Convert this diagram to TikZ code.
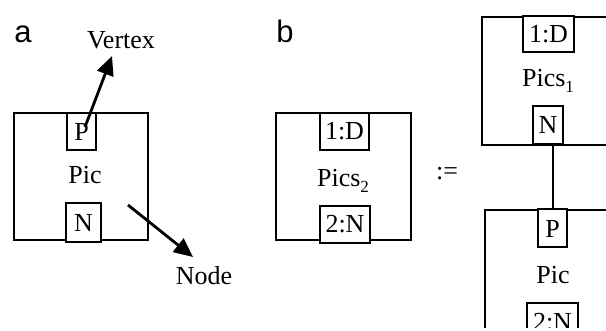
\documentclass[tikz,border=0pt]{standalone}
\usepackage{fontspec}
\setmainfont{Liberation Serif}
\newfontfamily\labfont{Liberation Sans}
\usetikzlibrary{arrows.meta}
\newcommand{\subidx}[1]{{\fontsize{17}{17}\selectfont\raisebox{-6pt}{#1}}}
\tikzset{
  x=1pt, y=-1pt,
  frame/.style={draw, line width=2pt, inner sep=0pt, fill=white},
  port/.style={draw, line width=2pt, inner sep=0pt, fill=white, font=\fontsize{26}{28}\selectfont},
  txt/.style={inner sep=0pt, anchor=base, font=\fontsize{26}{28}\selectfont},
  panel/.style={inner sep=0pt, anchor=base, font=\labfont\fontsize{31}{33}\selectfont},
  pointer/.style={line width=2.8pt, -{Triangle[length=19pt,width=17pt]}},
  wire/.style={line width=2pt}
}
\begin{document}
\begin{tikzpicture}
\useasboundingbox (0,0) rectangle (606,331);
\fill[white] (0,0) rectangle (606,331);
\begin{scope}
\clip (0,0) rectangle (606,327.5);
% panel a
\node[panel] (la) at (23,43) {a};
\node[frame, minimum width=134pt, minimum height=127pt] (A) at (81,176.5) {};
\node[port, minimum width=29pt, minimum height=37pt] (AP) at (81.5,131.5) {P};
\node[port, minimum width=35pt, minimum height=39pt] (AN) at (83.5,222.5) {N};
\node[txt] (Apic) at (85,184) {Pic};
\node[txt] (vtx) at (121,49) {Vertex};
\node[txt] (nde) at (204,285) {Node};
\coordinate (vtail) at (85,127);
\coordinate (vtip) at (112,56);
\coordinate (ntail) at (128,205);
\coordinate (ntip) at (193,257);
\draw[pointer] (vtail) -- (vtip);
\draw[pointer] (ntail) -- (ntip);
% panel b
\node[panel] (lb) at (285,43) {b};
\node[frame, minimum width=135pt, minimum height=127pt] (B) at (343.5,176.5) {};
\node[port, minimum width=49pt, minimum height=37pt] (BD) at (344.5,131.5) {1:D};
\node[port, minimum width=50pt, minimum height=37pt] (BN) at (345,224.5) {2:N};
\node[txt] (Bpic) at (343,187) {Pics\subidx{2}};
\node[txt] (def) at (447,180) {:=};
% Pics1
\node[frame, minimum width=160pt, minimum height=128pt, anchor=north west] (C) at (481,16) {};
\node[port, minimum width=51pt, minimum height=36pt] (CD) at (548.5,34) {1:D};
\node[txt] (Cpic) at (548,87) {Pics\subidx{1}};
\node[port, minimum width=30pt, minimum height=38pt] (CN) at (548,125) {N};
% Pic
\node[frame, minimum width=160pt, minimum height=160pt, anchor=north west] (D) at (484,209) {};
\node[port, minimum width=29pt, minimum height=38pt] (DP) at (552.5,228.5) {P};
\node[txt] (Dpic) at (553,284) {Pic};
\node[port, minimum width=51pt, minimum height=38pt] (DN) at (552.5,322) {2:N};
\draw[wire] (DP.north) -- (DP.north |- CN.south);
\end{scope}
\end{tikzpicture}
\end{document}
